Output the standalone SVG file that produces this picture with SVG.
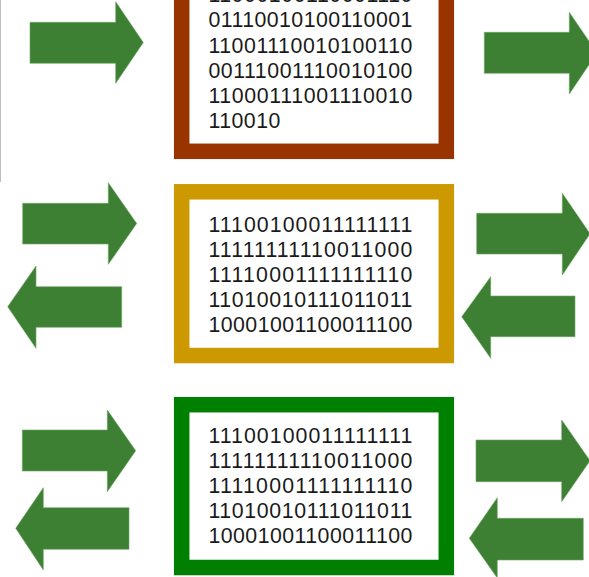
<svg xmlns="http://www.w3.org/2000/svg" width="589" height="577" viewBox="0 0 589 577">
  <style>
    .frame { fill: #ffffff; stroke-width: 15.5; }
    .bits { font-family: "Liberation Sans", Arial, sans-serif; font-size: 21.3px; fill: #1a1a1a; }
    .arrow { fill: #3d8034; stroke: #6ea563; stroke-width: 0.6; }
  </style>
  <rect width="589" height="577" fill="#ffffff"/>
  <line x1="0.5" y1="0" x2="0.5" y2="182" stroke="#bfbfbf" stroke-width="1"/>

  <g id="block-top">
    <rect class="frame" x="181.7" y="-30" width="264.6" height="181.3" stroke="#993300"/>
    <text class="bits" x="208.4" y="2.1" textLength="204" lengthAdjust="spacing">11000100110001110</text>
    <text class="bits" x="208.4" y="27.3" textLength="204" lengthAdjust="spacing">01110010100110001</text>
    <text class="bits" x="208.4" y="52.5" textLength="204" lengthAdjust="spacing">11001110010100110</text>
    <text class="bits" x="208.4" y="77.7" textLength="204" lengthAdjust="spacing">00111001110010100</text>
    <text class="bits" x="208.4" y="102.9" textLength="204" lengthAdjust="spacing">11000111001110010</text>
    <text class="bits" x="208.4" y="128.1" textLength="72" lengthAdjust="spacing">110010</text>
  </g>

  <g id="block-middle">
    <rect class="frame" x="181.7" y="191.8" width="264.6" height="163.7" stroke="#cc9900"/>
    <text class="bits" x="208.4" y="231.5" textLength="204" lengthAdjust="spacing">11100100011111111</text>
    <text class="bits" x="208.4" y="256.5" textLength="204" lengthAdjust="spacing">11111111110011000</text>
    <text class="bits" x="208.4" y="281.5" textLength="204" lengthAdjust="spacing">11110001111111110</text>
    <text class="bits" x="208.4" y="306.5" textLength="204" lengthAdjust="spacing">11010010111011011</text>
    <text class="bits" x="208.4" y="331.5" textLength="204" lengthAdjust="spacing">10001001100011100</text>
  </g>

  <g id="block-bottom">
    <rect class="frame" x="181.7" y="404.7" width="264.6" height="162.8" stroke="#008000"/>
    <text class="bits" x="208.4" y="443.3" textLength="204" lengthAdjust="spacing">11100100011111111</text>
    <text class="bits" x="208.4" y="468.3" textLength="204" lengthAdjust="spacing">11111111110011000</text>
    <text class="bits" x="208.4" y="493.3" textLength="204" lengthAdjust="spacing">11110001111111110</text>
    <text class="bits" x="208.4" y="518.3" textLength="204" lengthAdjust="spacing">11010010111011011</text>
    <text class="bits" x="208.4" y="543.3" textLength="204" lengthAdjust="spacing">10001001100011100</text>
  </g>

  <g id="connectors">
    <polygon class="arrow" points="30,22.3 115.7,22.3 115.7,1.7 143.3,42.5 115.7,83.3 115.7,63.3 30,63.3"/>
    <polygon class="arrow" points="484.3,32.3 569.3,32.3 569.3,12.3 597,53 569.3,94 569.3,73.3 484.3,73.3"/>

    <polygon class="arrow" points="22.7,203.3 108.3,203.3 108.3,182.7 136.7,223.5 108.3,264.3 108.3,244 22.7,244"/>
    <polygon class="arrow" points="7.7,306.7 36,266 36,286.7 121.7,286.7 121.7,327.3 36,327.3 36,348.3"/>
    <polygon class="arrow" points="476.7,213.3 562.3,213.3 562.3,193.3 590,233.7 562.3,275 562.3,254 476.7,254"/>
    <polygon class="arrow" points="461.7,316.7 490.7,276.7 490.7,296 575,296 575,336.7 490.7,336.7 490.7,358.3"/>

    <polygon class="arrow" points="22.3,430 107.3,430 107.3,410 135.7,450.7 107.3,491.7 107.3,471 22.3,471"/>
    <polygon class="arrow" points="15.7,528.3 43.3,487.7 43.3,507.7 129,507.7 129,549.3 43.3,549.3 43.3,570"/>
    <polygon class="arrow" points="476,440 561.7,440 561.7,420 590,460.7 561.7,501.7 561.7,481.7 476,481.7"/>
    <polygon class="arrow" points="469.3,538.3 497.3,497.7 497.3,518.3 583.3,518.3 583.3,560 497.3,560 497.3,578"/>
  </g>
</svg>
